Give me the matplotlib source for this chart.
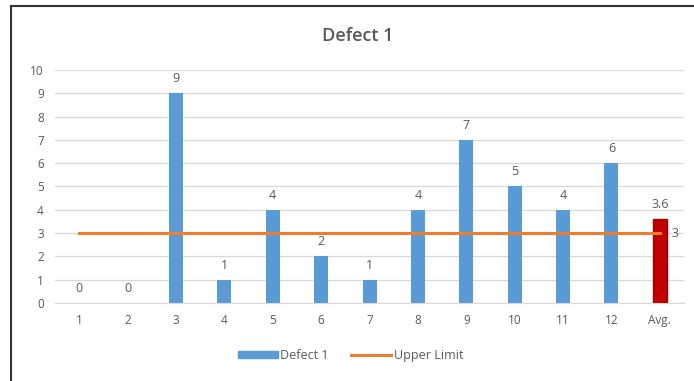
import matplotlib.pyplot as plt
from matplotlib.lines import Line2D

categories = ['1', '2', '3', '4', '5', '6', '7', '8', '9', '10', '11', '12', 'Avg.']
defects = [0, 0, 9, 1, 4, 2, 1, 4, 7, 5, 4, 6]
avg_value = 3.6
upper_limit = 3

blue = '#5B9BD5'
red = '#C00000'
orange = '#ED7D31'
grey = '#595959'

plt.rcParams['font.family'] = ['Open Sans', 'DejaVu Sans']

fig = plt.figure(figsize=(6.94, 3.81), dpi=100)
ax = fig.add_axes([0.0793, 0.2047, 0.9063, 0.6116])

x = list(range(len(categories)))
values = defects + [avg_value]
colors = [blue] * len(defects) + [red]
bars = ax.bar(x, values, width=0.29, color=colors, zorder=2, label='Defect 1')
bars[-1].set_edgecolor('#A00000')

# Labels above bars
for xi, v in zip(x, values):
    ax.text(xi, v + 0.35, f'{v:g}', ha='center', va='bottom', fontsize=9,
            color=grey)

# Upper limit line
limit_line, = ax.plot([x[0], x[-1]], [upper_limit] * 2, color=orange, lw=2.2,
                      zorder=3, label='Upper Limit')
ax.text(x[-1] + 0.25, upper_limit, str(upper_limit), ha='left', va='center',
        fontsize=9, color=grey)

ax.set_xlim(-0.5, len(categories) - 0.5)
ax.set_ylim(0, 10)
ax.set_yticks(range(0, 11))
ax.set_xticks(x)
ax.set_xticklabels(categories)
ax.tick_params(axis='both', length=0, labelsize=8.5, labelcolor=grey, pad=8)
ax.grid(axis='y', color='#D9D9D9', lw=0.9, zorder=0)
for s in ['top', 'right', 'left']:
    ax.spines[s].set_visible(False)
ax.spines['bottom'].set_color('#D9D9D9')

fig.text(0.515, 0.905, 'Defect 1', ha='center', va='center', fontsize=13,
         color=grey, fontweight='semibold')

handles = [plt.Rectangle((0, 0), 1, 1, color=blue), limit_line]
fig.legend(handles, ['Defect 1', 'Upper Limit'], loc='center',
           bbox_to_anchor=(0.505, 0.068), ncol=2, frameon=False, fontsize=9,
           labelcolor=grey, handlelength=3.2, handleheight=0.5,
           columnspacing=1.8, handletextpad=0.2)

# screenshot border at left and top
fig.add_artist(Line2D([0.0158, 0.0158], [0, 0.984], color='#333333', lw=1.5))
fig.add_artist(Line2D([0.0158, 1.0], [0.984, 0.984], color='#333333', lw=1.5))

fig.savefig('out.png', dpi=100)
